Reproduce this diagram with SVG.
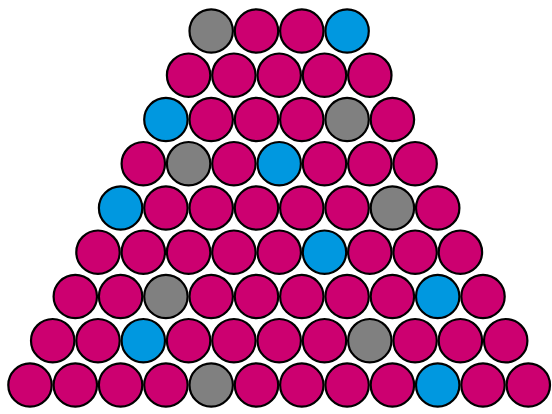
<svg xmlns="http://www.w3.org/2000/svg" width="552" height="414" viewBox="0 0 552 414">
<style>
circle{stroke:#000;stroke-width:2.2}
.m{fill:#CC0070}
.b{fill:#0098E0}
.g{fill:#808080}
</style>
<rect width="552" height="414" fill="#fff"/>
<g id="row1">
<g id="n1_1"><circle class="g" cx="211.2" cy="31" r="21.7"/></g>
<g id="n1_2"><circle class="m" cx="256.5" cy="31" r="21.7"/></g>
<g id="n1_3"><circle class="m" cx="301.8" cy="31" r="21.7"/></g>
<g id="n1_4"><circle class="b" cx="347.1" cy="31" r="21.7"/></g>
</g>
<g id="row2">
<g id="n2_1"><circle class="m" cx="188.6" cy="75.2" r="21.7"/></g>
<g id="n2_2"><circle class="m" cx="233.9" cy="75.2" r="21.7"/></g>
<g id="n2_3"><circle class="m" cx="279.2" cy="75.2" r="21.7"/></g>
<g id="n2_4"><circle class="m" cx="324.5" cy="75.2" r="21.7"/></g>
<g id="n2_5"><circle class="m" cx="369.8" cy="75.2" r="21.7"/></g>
</g>
<g id="row3">
<g id="n3_1"><circle class="b" cx="165.9" cy="119.5" r="21.7"/></g>
<g id="n3_2"><circle class="m" cx="211.2" cy="119.5" r="21.7"/></g>
<g id="n3_3"><circle class="m" cx="256.5" cy="119.5" r="21.7"/></g>
<g id="n3_4"><circle class="m" cx="301.8" cy="119.5" r="21.7"/></g>
<g id="n3_5"><circle class="g" cx="347.1" cy="119.5" r="21.7"/></g>
<g id="n3_6"><circle class="m" cx="392.4" cy="119.5" r="21.7"/></g>
</g>
<g id="row4">
<g id="n4_1"><circle class="m" cx="143.3" cy="163.7" r="21.7"/></g>
<g id="n4_2"><circle class="g" cx="188.6" cy="163.7" r="21.7"/></g>
<g id="n4_3"><circle class="m" cx="233.9" cy="163.7" r="21.7"/></g>
<g id="n4_4"><circle class="b" cx="279.2" cy="163.7" r="21.7"/></g>
<g id="n4_5"><circle class="m" cx="324.5" cy="163.7" r="21.7"/></g>
<g id="n4_6"><circle class="m" cx="369.8" cy="163.7" r="21.7"/></g>
<g id="n4_7"><circle class="m" cx="415.1" cy="163.7" r="21.7"/></g>
</g>
<g id="row5">
<g id="n5_1"><circle class="b" cx="120.6" cy="208" r="21.7"/></g>
<g id="n5_2"><circle class="m" cx="165.9" cy="208" r="21.7"/></g>
<g id="n5_3"><circle class="m" cx="211.2" cy="208" r="21.7"/></g>
<g id="n5_4"><circle class="m" cx="256.5" cy="208" r="21.7"/></g>
<g id="n5_5"><circle class="m" cx="301.8" cy="208" r="21.7"/></g>
<g id="n5_6"><circle class="m" cx="347.1" cy="208" r="21.7"/></g>
<g id="n5_7"><circle class="g" cx="392.4" cy="208" r="21.7"/></g>
<g id="n5_8"><circle class="m" cx="437.7" cy="208" r="21.7"/></g>
</g>
<g id="row6">
<g id="n6_1"><circle class="m" cx="98" cy="252.2" r="21.7"/></g>
<g id="n6_2"><circle class="m" cx="143.3" cy="252.2" r="21.7"/></g>
<g id="n6_3"><circle class="m" cx="188.6" cy="252.2" r="21.7"/></g>
<g id="n6_4"><circle class="m" cx="233.9" cy="252.2" r="21.7"/></g>
<g id="n6_5"><circle class="m" cx="279.2" cy="252.2" r="21.7"/></g>
<g id="n6_6"><circle class="b" cx="324.5" cy="252.2" r="21.7"/></g>
<g id="n6_7"><circle class="m" cx="369.8" cy="252.2" r="21.7"/></g>
<g id="n6_8"><circle class="m" cx="415.1" cy="252.2" r="21.7"/></g>
<g id="n6_9"><circle class="m" cx="460.4" cy="252.2" r="21.7"/></g>
</g>
<g id="row7">
<g id="n7_1"><circle class="m" cx="75.3" cy="296.5" r="21.7"/></g>
<g id="n7_2"><circle class="m" cx="120.6" cy="296.5" r="21.7"/></g>
<g id="n7_3"><circle class="g" cx="165.9" cy="296.5" r="21.7"/></g>
<g id="n7_4"><circle class="m" cx="211.2" cy="296.5" r="21.7"/></g>
<g id="n7_5"><circle class="m" cx="256.5" cy="296.5" r="21.7"/></g>
<g id="n7_6"><circle class="m" cx="301.8" cy="296.5" r="21.7"/></g>
<g id="n7_7"><circle class="m" cx="347.1" cy="296.5" r="21.7"/></g>
<g id="n7_8"><circle class="m" cx="392.4" cy="296.5" r="21.7"/></g>
<g id="n7_9"><circle class="b" cx="437.7" cy="296.5" r="21.7"/></g>
<g id="n7_10"><circle class="m" cx="483" cy="296.5" r="21.7"/></g>
</g>
<g id="row8">
<g id="n8_1"><circle class="m" cx="52.7" cy="340.7" r="21.7"/></g>
<g id="n8_2"><circle class="m" cx="98" cy="340.7" r="21.7"/></g>
<g id="n8_3"><circle class="b" cx="143.3" cy="340.7" r="21.7"/></g>
<g id="n8_4"><circle class="m" cx="188.6" cy="340.7" r="21.7"/></g>
<g id="n8_5"><circle class="m" cx="233.9" cy="340.7" r="21.7"/></g>
<g id="n8_6"><circle class="m" cx="279.2" cy="340.7" r="21.7"/></g>
<g id="n8_7"><circle class="m" cx="324.5" cy="340.7" r="21.7"/></g>
<g id="n8_8"><circle class="g" cx="369.8" cy="340.7" r="21.7"/></g>
<g id="n8_9"><circle class="m" cx="415.1" cy="340.7" r="21.7"/></g>
<g id="n8_10"><circle class="m" cx="460.4" cy="340.7" r="21.7"/></g>
<g id="n8_11"><circle class="m" cx="505.7" cy="340.7" r="21.7"/></g>
</g>
<g id="row9">
<g id="n9_1"><circle class="m" cx="30" cy="385" r="21.7"/></g>
<g id="n9_2"><circle class="m" cx="75.3" cy="385" r="21.7"/></g>
<g id="n9_3"><circle class="m" cx="120.6" cy="385" r="21.7"/></g>
<g id="n9_4"><circle class="m" cx="165.9" cy="385" r="21.7"/></g>
<g id="n9_5"><circle class="g" cx="211.2" cy="385" r="21.7"/></g>
<g id="n9_6"><circle class="m" cx="256.5" cy="385" r="21.7"/></g>
<g id="n9_7"><circle class="m" cx="301.8" cy="385" r="21.7"/></g>
<g id="n9_8"><circle class="m" cx="347.1" cy="385" r="21.7"/></g>
<g id="n9_9"><circle class="m" cx="392.4" cy="385" r="21.7"/></g>
<g id="n9_10"><circle class="b" cx="437.7" cy="385" r="21.7"/></g>
<g id="n9_11"><circle class="m" cx="483" cy="385" r="21.7"/></g>
<g id="n9_12"><circle class="m" cx="528.3" cy="385" r="21.7"/></g>
</g>
<g id="connectors"></g>
</svg>
